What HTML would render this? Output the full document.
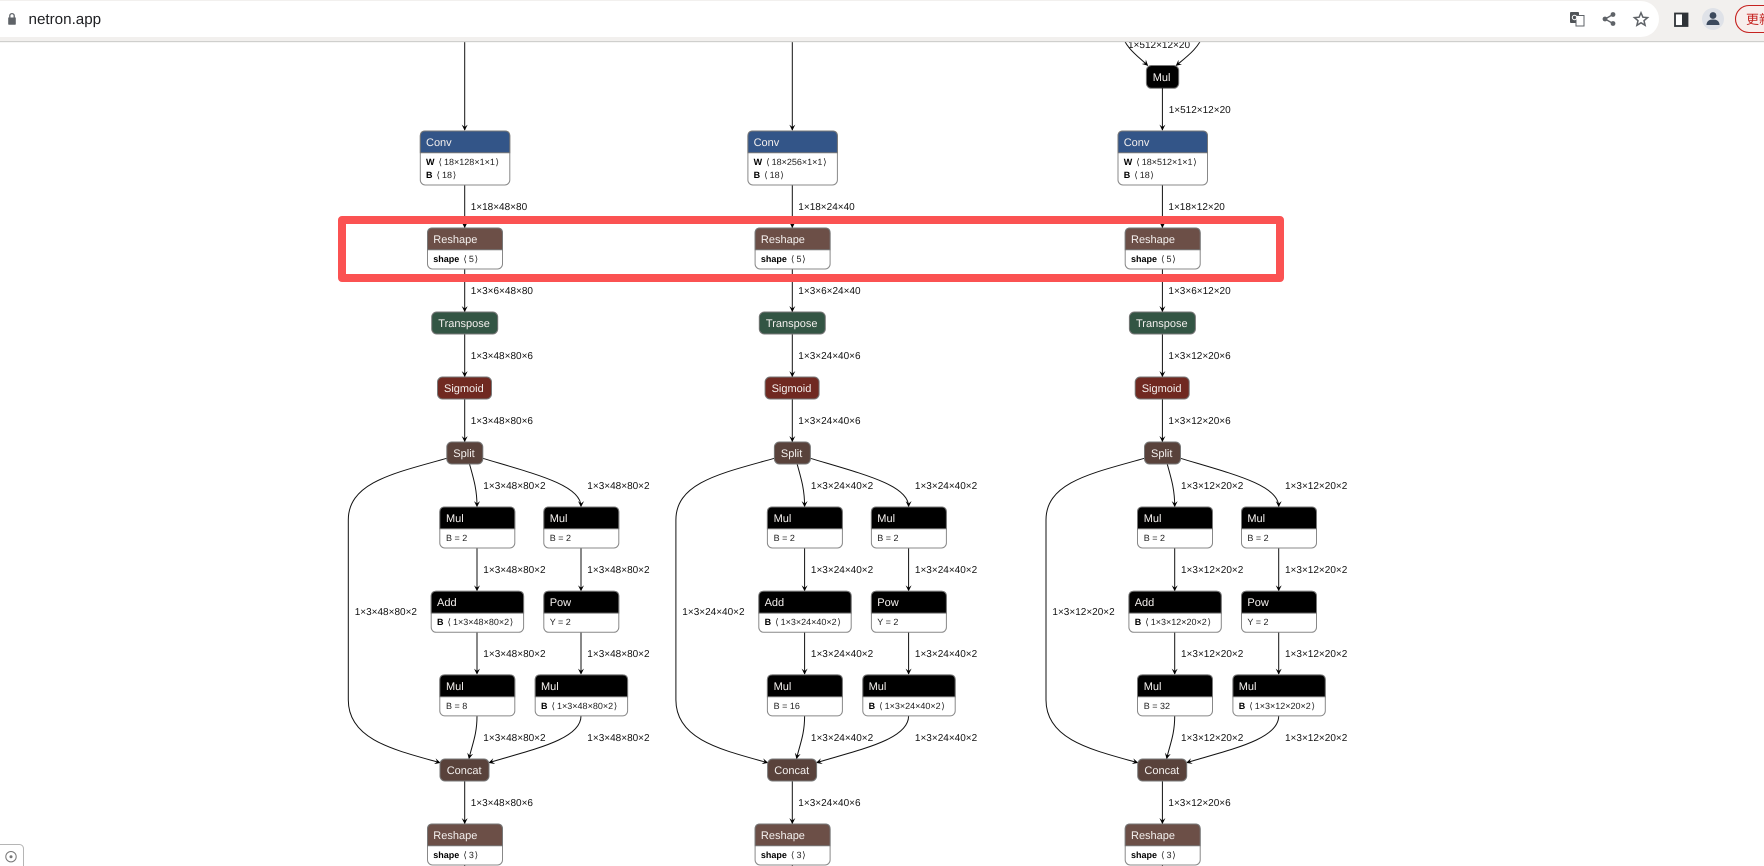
<!DOCTYPE html>
<html><head><meta charset="utf-8"><title>netron.app</title>
<style>
html,body{margin:0;padding:0;background:#fff;width:1764px;height:866px;overflow:hidden}
svg{display:block;filter:blur(.3px)}
text{font-family:"Liberation Sans","DejaVu Sans","Noto Sans CJK SC",sans-serif;text-rendering:geometricPrecision}
.l{font-size:10px;fill:#111}
.t{font-size:11px;fill:#f4f0ee}
.a{font-size:9px;fill:#222}
.a tspan.b{font-weight:bold;fill:#000}
.e{fill:none;stroke:#111;stroke-width:1;marker-end:url(#ah)}
</style></head><body>
<svg xmlns="http://www.w3.org/2000/svg" width="1764" height="866" viewBox="0 0 1764 866">
<defs>
<marker id="ah" viewBox="0 0 10 10" refX="9" refY="5" markerUnits="userSpaceOnUse" markerWidth="6" markerHeight="6" orient="auto"><path d="M0 0L10 5L0 10L4 5z" fill="#000"/></marker>
<g id="b75"><rect x=".5" y=".5" width="75" height="41" rx="5" fill="#fff" stroke="#888"/><path d="M.5 22.3V5.5Q.5 .5 5.5 .5H70.5Q75.5 .5 75.5 5.5V22.3z" fill="currentColor" stroke="#777"/></g>
<g id="b92"><rect x=".5" y=".5" width="92.4" height="41" rx="5" fill="#fff" stroke="#888"/><path d="M.5 22.3V5.5Q.5 .5 5.5 .5H87.9Q92.9 .5 92.9 5.5V22.3z" fill="currentColor" stroke="#777"/></g>
<g id="b89"><rect x=".5" y=".5" width="89.5" height="54" rx="5" fill="#fff" stroke="#888"/><path d="M.5 22.3V5.5Q.5 .5 5.5 .5H85Q90 .5 90 5.5V22.3z" fill="currentColor" stroke="#777"/></g>
<g id="edgesBody">
<path class="e" d="M464.7 185V227.5"/>
<path class="e" d="M464.7 269V311.5"/>
<path class="e" d="M464.7 334V376.5"/>
<path class="e" d="M464.7 399V441.5"/>
<path class="e" d="M469.5 464C474 480 477 490 477 506.5"/>
<path class="e" d="M482.7 458.3C535 474 581 485 581 506.5"/>
<path class="e" d="M477 548V590.7"/>
<path class="e" d="M581 548V590.7"/>
<path class="e" d="M477 632V674"/>
<path class="e" d="M581 632V674"/>
<path class="e" d="M446.7 458.3C395 473 348.3 482 348.3 520V700C348.3 740 395 750 440 762.7"/>
<path class="e" d="M477 716C477 735 472 745 469 758.5"/>
<path class="e" d="M581 716C581 740 530 750 489 762.7"/>
<path class="e" d="M464.7 781V823.5"/>
<path d="M464.7 865V870" stroke="#111" fill="none"/>
</g>
<g id="nodesBody">
<use href="#b89" x="419.8" y="130.5" color="#335588"/>
<use href="#b75" x="427" y="227.5" color="#6c4f47"/>
<rect x="431.7" y="312" width="66" height="22" rx="5" fill="#335544" stroke="#777"/>
<rect x="437.5" y="377" width="54" height="22" rx="5" fill="#702921" stroke="#777"/>
<rect x="446.8" y="442" width="36" height="22" rx="5" fill="#59423b" stroke="#777"/>
<use href="#b75" x="439.3" y="506.5" color="#000"/>
<use href="#b75" x="543.3" y="506.5" color="#000"/>
<use href="#b92" x="430.7" y="590.8" color="#000"/>
<use href="#b75" x="543.3" y="590.8" color="#000"/>
<use href="#b75" x="439.3" y="674.4" color="#000"/>
<use href="#b92" x="534.7" y="674.4" color="#000"/>
<rect x="440" y="759" width="49" height="22" rx="5" fill="#59423b" stroke="#777"/>
<use href="#b75" x="427" y="823.5" color="#6c4f47"/>
</g>
</defs>

<!-- column 1 -->
<g>
<path class="e" d="M464.7 30V130"/>
<use href="#edgesBody"/><use href="#nodesBody"/>
<text class="t" x="426" y="146">Conv</text>
<text class="a" x="426" y="165"><tspan class="b">W</tspan> <tspan dx="1.5">⟨</tspan><tspan dx="2">18×128×1×1</tspan><tspan dx=".7">⟩</tspan></text>
<text class="a" x="426" y="178"><tspan class="b">B</tspan> <tspan dx="1.5">⟨</tspan><tspan dx="2">18</tspan><tspan dx=".7">⟩</tspan></text>
<text class="l" x="470.7" y="210">1×18×48×80</text>
<text class="t" x="433.3" y="243">Reshape</text>
<text class="a" x="433.3" y="262"><tspan class="b">shape</tspan> <tspan dx="1.5">⟨</tspan><tspan dx="2">5</tspan><tspan dx=".7">⟩</tspan></text>
<text class="l" x="470.7" y="294">1×3×6×48×80</text>
<text class="t" x="438.3" y="327">Transpose</text>
<text class="l" x="470.7" y="359">1×3×48×80×6</text>
<text class="t" x="444" y="392">Sigmoid</text>
<text class="l" x="470.7" y="424">1×3×48×80×6</text>
<text class="t" x="453.3" y="457">Split</text>
<text class="l" x="483.3" y="489">1×3×48×80×2</text>
<text class="l" x="587.3" y="489">1×3×48×80×2</text>
<text class="t" x="446" y="522">Mul</text><text class="a" x="446" y="541">B = 2</text>
<text class="t" x="549.7" y="522">Mul</text><text class="a" x="549.7" y="541">B = 2</text>
<text class="l" x="483.3" y="573">1×3×48×80×2</text>
<text class="l" x="587.3" y="573">1×3×48×80×2</text>
<text class="l" x="354.7" y="615">1×3×48×80×2</text>
<text class="t" x="437" y="606">Add</text><text class="a" x="437" y="625"><tspan class="b">B</tspan> <tspan dx="1.5">⟨</tspan><tspan dx="2">1×3×48×80×2</tspan><tspan dx=".7">⟩</tspan></text>
<text class="t" x="549.7" y="606">Pow</text><text class="a" x="549.7" y="625">Y = 2</text>
<text class="l" x="483.3" y="657">1×3×48×80×2</text>
<text class="l" x="587.3" y="657">1×3×48×80×2</text>
<text class="t" x="446" y="690">Mul</text><text class="a" x="446" y="709">B = 8</text>
<text class="t" x="541" y="690">Mul</text><text class="a" x="541" y="709"><tspan class="b">B</tspan> <tspan dx="1.5">⟨</tspan><tspan dx="2">1×3×48×80×2</tspan><tspan dx=".7">⟩</tspan></text>
<text class="l" x="483.3" y="741">1×3×48×80×2</text>
<text class="l" x="587.3" y="741">1×3×48×80×2</text>
<text class="t" x="446.7" y="774">Concat</text>
<text class="l" x="470.7" y="806">1×3×48×80×6</text>
<text class="t" x="433.3" y="839">Reshape</text>
<text class="a" x="433.3" y="858"><tspan class="b">shape</tspan> <tspan dx="1.5">⟨</tspan><tspan dx="2">3</tspan><tspan dx=".7">⟩</tspan></text>
</g>

<!-- column 2 -->
<g transform="translate(327.6 0)">
<path class="e" d="M464.7 30V130"/>
<use href="#edgesBody"/><use href="#nodesBody"/>
<text class="t" x="426" y="146">Conv</text>
<text class="a" x="426" y="165"><tspan class="b">W</tspan> <tspan dx="1.5">⟨</tspan><tspan dx="2">18×256×1×1</tspan><tspan dx=".7">⟩</tspan></text>
<text class="a" x="426" y="178"><tspan class="b">B</tspan> <tspan dx="1.5">⟨</tspan><tspan dx="2">18</tspan><tspan dx=".7">⟩</tspan></text>
<text class="l" x="470.7" y="210">1×18×24×40</text>
<text class="t" x="433.3" y="243">Reshape</text>
<text class="a" x="433.3" y="262"><tspan class="b">shape</tspan> <tspan dx="1.5">⟨</tspan><tspan dx="2">5</tspan><tspan dx=".7">⟩</tspan></text>
<text class="l" x="470.7" y="294">1×3×6×24×40</text>
<text class="t" x="438.3" y="327">Transpose</text>
<text class="l" x="470.7" y="359">1×3×24×40×6</text>
<text class="t" x="444" y="392">Sigmoid</text>
<text class="l" x="470.7" y="424">1×3×24×40×6</text>
<text class="t" x="453.3" y="457">Split</text>
<text class="l" x="483.3" y="489">1×3×24×40×2</text>
<text class="l" x="587.3" y="489">1×3×24×40×2</text>
<text class="t" x="446" y="522">Mul</text><text class="a" x="446" y="541">B = 2</text>
<text class="t" x="549.7" y="522">Mul</text><text class="a" x="549.7" y="541">B = 2</text>
<text class="l" x="483.3" y="573">1×3×24×40×2</text>
<text class="l" x="587.3" y="573">1×3×24×40×2</text>
<text class="l" x="354.7" y="615">1×3×24×40×2</text>
<text class="t" x="437" y="606">Add</text><text class="a" x="437" y="625"><tspan class="b">B</tspan> <tspan dx="1.5">⟨</tspan><tspan dx="2">1×3×24×40×2</tspan><tspan dx=".7">⟩</tspan></text>
<text class="t" x="549.7" y="606">Pow</text><text class="a" x="549.7" y="625">Y = 2</text>
<text class="l" x="483.3" y="657">1×3×24×40×2</text>
<text class="l" x="587.3" y="657">1×3×24×40×2</text>
<text class="t" x="446" y="690">Mul</text><text class="a" x="446" y="709">B = 16</text>
<text class="t" x="541" y="690">Mul</text><text class="a" x="541" y="709"><tspan class="b">B</tspan> <tspan dx="1.5">⟨</tspan><tspan dx="2">1×3×24×40×2</tspan><tspan dx=".7">⟩</tspan></text>
<text class="l" x="483.3" y="741">1×3×24×40×2</text>
<text class="l" x="587.3" y="741">1×3×24×40×2</text>
<text class="t" x="446.7" y="774">Concat</text>
<text class="l" x="470.7" y="806">1×3×24×40×6</text>
<text class="t" x="433.3" y="839">Reshape</text>
<text class="a" x="433.3" y="858"><tspan class="b">shape</tspan> <tspan dx="1.5">⟨</tspan><tspan dx="2">3</tspan><tspan dx=".7">⟩</tspan></text>
</g>

<!-- column 3 -->
<g transform="translate(697.7 0)">
<path class="e" d="M424 34C428 48 440 56 450 65.5"/>
<path class="e" d="M506 34C501 48 490 56 478.5 65.5"/>
<text class="l" x="430.3" y="48">1×512×12×20</text>
<rect x="448.7" y="65.5" width="32.3" height="22.8" rx="5" fill="#000" stroke="#777"/>
<text class="t" x="455" y="81">Mul</text>
<path class="e" d="M464.7 88V130"/>
<text class="l" x="471" y="113">1×512×12×20</text>
<use href="#edgesBody"/><use href="#nodesBody"/>
<text class="t" x="426" y="146">Conv</text>
<text class="a" x="426" y="165"><tspan class="b">W</tspan> <tspan dx="1.5">⟨</tspan><tspan dx="2">18×512×1×1</tspan><tspan dx=".7">⟩</tspan></text>
<text class="a" x="426" y="178"><tspan class="b">B</tspan> <tspan dx="1.5">⟨</tspan><tspan dx="2">18</tspan><tspan dx=".7">⟩</tspan></text>
<text class="l" x="470.7" y="210">1×18×12×20</text>
<text class="t" x="433.3" y="243">Reshape</text>
<text class="a" x="433.3" y="262"><tspan class="b">shape</tspan> <tspan dx="1.5">⟨</tspan><tspan dx="2">5</tspan><tspan dx=".7">⟩</tspan></text>
<text class="l" x="470.7" y="294">1×3×6×12×20</text>
<text class="t" x="438.3" y="327">Transpose</text>
<text class="l" x="470.7" y="359">1×3×12×20×6</text>
<text class="t" x="444" y="392">Sigmoid</text>
<text class="l" x="470.7" y="424">1×3×12×20×6</text>
<text class="t" x="453.3" y="457">Split</text>
<text class="l" x="483.3" y="489">1×3×12×20×2</text>
<text class="l" x="587.3" y="489">1×3×12×20×2</text>
<text class="t" x="446" y="522">Mul</text><text class="a" x="446" y="541">B = 2</text>
<text class="t" x="549.7" y="522">Mul</text><text class="a" x="549.7" y="541">B = 2</text>
<text class="l" x="483.3" y="573">1×3×12×20×2</text>
<text class="l" x="587.3" y="573">1×3×12×20×2</text>
<text class="l" x="354.7" y="615">1×3×12×20×2</text>
<text class="t" x="437" y="606">Add</text><text class="a" x="437" y="625"><tspan class="b">B</tspan> <tspan dx="1.5">⟨</tspan><tspan dx="2">1×3×12×20×2</tspan><tspan dx=".7">⟩</tspan></text>
<text class="t" x="549.7" y="606">Pow</text><text class="a" x="549.7" y="625">Y = 2</text>
<text class="l" x="483.3" y="657">1×3×12×20×2</text>
<text class="l" x="587.3" y="657">1×3×12×20×2</text>
<text class="t" x="446" y="690">Mul</text><text class="a" x="446" y="709">B = 32</text>
<text class="t" x="541" y="690">Mul</text><text class="a" x="541" y="709"><tspan class="b">B</tspan> <tspan dx="1.5">⟨</tspan><tspan dx="2">1×3×12×20×2</tspan><tspan dx=".7">⟩</tspan></text>
<text class="l" x="483.3" y="741">1×3×12×20×2</text>
<text class="l" x="587.3" y="741">1×3×12×20×2</text>
<text class="t" x="446.7" y="774">Concat</text>
<text class="l" x="470.7" y="806">1×3×12×20×6</text>
<text class="t" x="433.3" y="839">Reshape</text>
<text class="a" x="433.3" y="858"><tspan class="b">shape</tspan> <tspan dx="1.5">⟨</tspan><tspan dx="2">3</tspan><tspan dx=".7">⟩</tspan></text>
</g>

<!-- red highlight -->
<rect x="342" y="220" width="938" height="58" fill="none" stroke="#fb5252" stroke-width="8" stroke-linejoin="round"/>

<!-- browser bar -->
<rect x="0" y="0" width="1764" height="41" fill="#f2f0ee"/>
<rect x="0" y="41" width="1764" height="1.2" fill="#cfcfcd"/>
<rect x="-20" y="1" width="1679" height="36" rx="18" fill="#fff"/>
<path d="M8.2 17.5h7.6v6.5a.8.8 0 0 1-.8.8H9a.8.8 0 0 1-.8-.8z" fill="#5f6368"/>
<path d="M9.8 17.5v-1.7a2.2 2.2 0 0 1 4.4 0v1.7" fill="none" stroke="#5f6368" stroke-width="1.3"/>
<text x="28.5" y="24" style="font-size:15.2px;fill:#202124">netron.app</text>
<!-- translate icon -->
<rect x="1570" y="12" width="9" height="11" rx="1" fill="#4f5357"/>
<rect x="1576" y="15.5" width="8" height="10.5" fill="#fff" stroke="#5f6368"/>
<circle cx="1574.5" cy="17.5" r="2.2" fill="none" stroke="#fff"/>
<!-- share -->
<g fill="#5f6368"><circle cx="1613" cy="14.5" r="2.4"/><circle cx="1605" cy="19" r="2.4"/><circle cx="1613" cy="23.5" r="2.4"/></g>
<path d="M1613 14.5L1605 19L1613 23.5" fill="none" stroke="#5f6368" stroke-width="1.3"/>
<!-- star -->
<path d="M1641 12.8l1.9 4.4 4.7.4-3.6 3.1 1.1 4.6-4.1-2.5-4.1 2.5 1.1-4.6-3.6-3.1 4.7-.4z" fill="none" stroke="#5f6368" stroke-width="1.5"/>
<!-- side panel -->
<rect x="1675" y="13.5" width="12.5" height="12.5" fill="#fff" stroke="#2f3337" stroke-width="1.8"/>
<rect x="1682" y="13.5" width="6" height="12.5" fill="#2f3337"/>
<!-- avatar -->
<circle cx="1713" cy="19" r="11" fill="#dfe2e8"/>
<circle cx="1713" cy="15.5" r="3.4" fill="#3c4a5e"/>
<path d="M1706.5 25c0-4 3-5.5 6.5-5.5s6.5 1.5 6.5 5.5z" fill="#3c4a5e"/>
<!-- update button -->
<rect x="1735.5" y="5.5" width="60" height="27" rx="13.5" fill="#f8eeec" stroke="#c5221f" stroke-width="1.1"/>
<text x="1746" y="24" style="font-size:13px;fill:#c5221f;font-family:'Noto Sans CJK SC',sans-serif">更新</text>

<!-- bottom-left control -->
<rect x="-6" y="844.5" width="29.5" height="30" rx="4" fill="#fff" stroke="#b5b5b5"/>
<circle cx="11" cy="856.7" r="5.2" fill="none" stroke="#777"/>
<circle cx="11" cy="856.7" r="1.5" fill="#777"/>
</svg>
</body></html>
